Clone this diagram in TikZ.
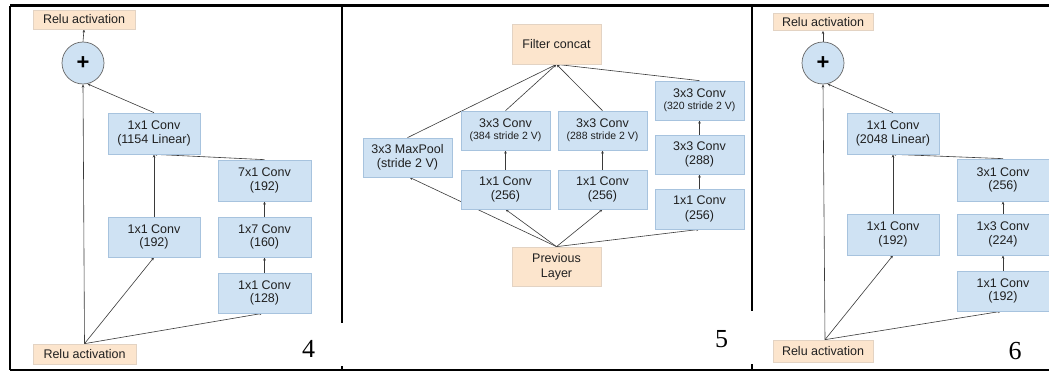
\documentclass[tikz,border=0pt]{standalone}
\usepackage{fontspec}
\setmainfont{Liberation Sans}
\newfontfamily\numfont{Liberation Serif}
\usetikzlibrary{arrows.meta}
\pgfdeclarelayer{back}
\pgfdeclarelayer{bg}
\pgfsetlayers{back,bg,main}
\definecolor{bluef}{HTML}{CFE2F3}
\definecolor{blueb}{HTML}{A7C3DE}
\definecolor{peachf}{HTML}{FCE5CD}
\definecolor{peachb}{HTML}{E3D3C3}
\definecolor{txt}{HTML}{202020}
\definecolor{edgec}{HTML}{3A3A3A}
\tikzset{
  x=1pt, y=-1pt,
  base/.style={rectangle, inner sep=0pt, align=center, text=txt, line width=0.7pt,
    font=\fontsize{12.5}{13.5}\selectfont},
  bluebox/.style={base, draw=blueb, fill=bluef, minimum width=#1, minimum height=40pt},
  bluebox/.default=90pt,
  peachbox/.style={base, draw=peachb, fill=peachf},
  plusnode/.style={circle, draw=black!60, fill=bluef, line width=0.7pt, minimum size=42pt, inner sep=0pt,
    font=\fontsize{22}{22}\selectfont\bfseries, text=black},
  conn/.style={draw=edgec, line width=0.6pt, -{Stealth[length=3.2pt,width=2.6pt]}},
  frameline/.style={draw=black, line width=2.2pt},
  panelnum/.style={font=\numfont\fontsize{26}{26}\selectfont, text=black, inner sep=0pt}
}
\begin{document}
\begin{tikzpicture}
\useasboundingbox (0,0) rectangle (1049,372);
\begin{pgfonlayer}{back}
\fill[white] (0,0) rectangle (1049,372);
\end{pgfonlayer}
% frame
\draw[frameline] (10,5.5) -- (1049,5.5);
\draw[frameline] (10,5.5) -- (10,370);
\draw[frameline] (10,370) -- (1049,370);
\draw[frameline] (342,5.5) -- (342,323);
\draw[frameline] (342,366) -- (342,370);
\draw[frameline] (752,5.5) -- (752,311);
\draw[frameline] (752,364) -- (752,370);

% ---------------- Panel 4 ----------------
\node[peachbox, minimum width=102pt, minimum height=19pt] (reluT) at (84,19.5) {Relu activation};
\node[plusnode] (plus) at (83,63) {+};
\node[bluebox=92pt, minimum height=41pt] (lin1) at (154,133.5) {1x1 Conv\\(1154 Linear)};
\node[bluebox=93pt, minimum height=41pt] (c71) at (264.5,180.5) {7x1 Conv\\(192)};
\node[bluebox=92pt] (c192) at (154,237) {1x1 Conv\\(192)};
\node[bluebox=93pt] (c17) at (264.5,237) {1x7 Conv\\(160)};
\node[bluebox=93pt] (c128) at (264.5,293) {1x1 Conv\\(128)};
\node[peachbox, minimum width=103pt, minimum height=20pt] (reluB) at (84.5,354) {Relu activation};
\node[panelnum] (n4) at (308.5,349) {4};

% ---------------- Panel 5 ----------------
\node[peachbox, minimum width=89pt, minimum height=40pt] (concat) at (556.5,44) {Filter concat};
\node[bluebox=89pt, minimum height=39pt, font=\fontsize{12.5}{12}\selectfont] (c320) at (699.5,100.5) {3x3 Conv\\{\fontsize{10.5}{11}\selectfont (320 stride 2 V)}};
\node[bluebox=89pt, minimum height=39pt, font=\fontsize{12.5}{12}\selectfont] (c384) at (505.5,130.5) {3x3 Conv\\{\fontsize{10.5}{11}\selectfont (384 stride 2 V)}};
\node[bluebox=89pt, minimum height=39pt, font=\fontsize{12.5}{12}\selectfont] (c288s) at (602.5,130.5) {3x3 Conv\\{\fontsize{10.5}{11}\selectfont (288 stride 2 V)}};
\node[bluebox=89pt, minimum height=39pt] (maxp) at (407.5,157.5) {3x3 MaxPool\\(stride 2 V)};
\node[bluebox=89pt, minimum height=39pt, font=\fontsize{12.5}{14.5}\selectfont] (c288) at (699.5,154.5) {3x3 Conv\\(288)};
\node[bluebox=89pt, minimum height=39pt] (a256) at (505.5,189.5) {1x1 Conv\\(256)};
\node[bluebox=89pt, minimum height=39pt] (b256) at (602.5,189.5) {1x1 Conv\\(256)};
\node[bluebox=89pt, minimum height=40pt, font=\fontsize{12.5}{15}\selectfont] (d256) at (699.5,209) {1x1 Conv\\(256)};
\node[peachbox, minimum width=89pt, minimum height=39pt, font=\fontsize{12.5}{15}\selectfont] (prev) at (556.5,266.5) {Previous\\Layer};
\node[panelnum] (n5) at (721.5,339) {5};

% ---------------- Panel 6 ----------------
\node[peachbox, minimum width=100pt, minimum height=17pt] (reluT3) at (823,22) {Relu activation};
\node[plusnode] (plus3) at (823,63) {+};
\node[bluebox=92pt, minimum height=41pt] (lin3) at (893,133.5) {1x1 Conv\\(2048 Linear)};
\node[bluebox=92pt, minimum height=42pt] (c31) at (1003,180) {3x1 Conv\\(256)};
\node[bluebox=92pt, minimum height=41pt] (l192) at (893,234.5) {1x1 Conv\\(192)};
\node[bluebox=92pt, minimum height=41pt] (c13) at (1003,234.5) {1x3 Conv\\(224)};
\node[bluebox=92pt] (r192) at (1003,291) {1x1 Conv\\(192)};
\node[peachbox, minimum width=100pt, minimum height=22pt] (reluB3) at (823,351) {Relu activation};
\node[panelnum] (n6) at (1015,351) {6};

\begin{pgfonlayer}{bg}
% panel 4 edges
\draw[conn] (plus.north) -- (reluT.south);
\draw[conn] (reluB.north) -- (plus.south);
\draw[conn] (reluB.north) -- (c192.south);
\draw[conn] (reluB.north) -- ([xshift=-2pt]c128.south);
\draw[conn] (c192.north) -- (lin1.south);
\draw[conn] (c71.north) -- (lin1.south);
\draw[conn] (c17.north) -- (c71.south);
\draw[conn] (c128.north) -- (c17.south);
\draw[conn] (lin1.north) -- (plus.-78);
% panel 5 edges
\draw[conn] (prev.north) -- ([xshift=2pt]maxp.south);
\draw[conn] (prev.north) -- (a256.south);
\draw[conn] (prev.north) -- (b256.south);
\draw[conn] (prev.north) -- (d256.south);
\draw[conn] (a256.north) -- (c384.south);
\draw[conn] (b256.north) -- (c288s.south);
\draw[conn] (d256.north) -- (c288.south);
\draw[conn] (c288.north) -- (c320.south);
\draw[conn] (maxp.north) -- (concat.south);
\draw[conn] (c384.north) -- (concat.south);
\draw[conn] (c288s.north) -- (concat.south);
\draw[conn] (c320.north) -- (concat.south);
% panel 6 edges
\draw[conn] (plus3.north) -- (reluT3.south);
\draw[conn] ([xshift=2pt]reluB3.north) -- (plus3.south);
\draw[conn] ([xshift=2pt]reluB3.north) -- (l192.south);
\draw[conn] ([xshift=2pt]reluB3.north) -- ([xshift=-2pt]r192.south);
\draw[conn] (l192.north) -- (lin3.south);
\draw[conn] (c31.north) -- (lin3.south);
\draw[conn] (c13.north) -- (c31.south);
\draw[conn] (r192.north) -- (c13.south);
\draw[conn] (lin3.north) -- (plus3.-78);
\end{pgfonlayer}
\end{tikzpicture}
\end{document}
